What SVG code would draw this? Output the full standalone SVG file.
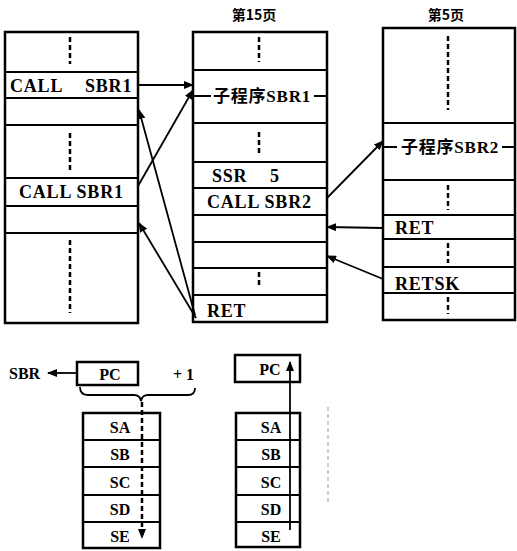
<svg xmlns="http://www.w3.org/2000/svg" width="517" height="551" viewBox="0 0 517 551">
<style>
.box{fill:#fff;stroke:#000;stroke-width:2.5}
.row{stroke:#000;stroke-width:2;fill:none}
.dash{stroke:#000;stroke-width:2.5;stroke-dasharray:5,3;fill:none}
.t{font-family:"Liberation Serif","Noto Sans CJK SC",serif;font-weight:bold;font-size:18px;letter-spacing:0.8px;fill:#000}
.s{font-family:"Liberation Serif","Noto Sans CJK SC",serif;font-weight:bold;font-size:16px;fill:#000}
.c{font-family:"Liberation Serif","Noto Sans CJK SC",serif;font-weight:bold;font-size:17px;letter-spacing:0.8px;fill:#000}
.h{font-family:"Noto Sans CJK SC","Liberation Serif",sans-serif;font-weight:bold;font-size:14px;fill:#000}
.conn{stroke:#000;stroke-width:1.8;fill:none}
</style>
<defs>
<marker id="ah" markerWidth="10" markerHeight="8" refX="9" refY="4" orient="auto" markerUnits="userSpaceOnUse">
<path d="M0,0 L10,4 L0,8 Z" fill="#000"/>
</marker>
</defs>

<g id="left-column">
<rect class="box" x="5" y="32" width="133" height="291"/>
<path class="row" d="M5,72H138M5,98H138M5,125H138M5,178H138M5,206H138M5,233H138"/>
<path class="dash" d="M70,37V64M70,133V173M70,240V313"/>
<text class="t" x="10" y="92">CALL</text>
<text class="t" x="85" y="92">SBR1</text>
<text class="t" x="19" y="198">CALL SBR1</text>
</g>

<g id="page15">
<text class="h" x="254" y="20" text-anchor="middle">第15页</text>
<rect class="box" x="193" y="32" width="134" height="290"/>
<path class="row" d="M193,70H327M193,123H327M193,162H327M193,188H327M193,215H327M193,242H327M193,268H327M193,295H327"/>
<path class="dash" d="M259,37V62M259,132V155M259,272V287"/>
<path class="row" d="M193,96H211M314,96H327" stroke-width="1.5"/>
<text class="c" x="262" y="102" text-anchor="middle">子程序SBR1</text>
<text class="t" x="212" y="182">SSR</text>
<text class="t" x="270" y="182">5</text>
<text class="t" x="207" y="208">CALL SBR2</text>
<text class="t" x="207" y="317">RET</text>
</g>

<g id="page5">
<text class="h" x="446" y="20" text-anchor="middle">第5页</text>
<rect class="box" x="383" y="28" width="132" height="292"/>
<path class="row" d="M383,123H515M383,180H515M383,215H515M383,239H515M383,267H515M383,293H515"/>
<path class="dash" d="M448,36V110M448,185V210M448,243V263M448,297V314"/>
<path class="row" d="M383,147H397M502,147H515" stroke-width="1.5"/>
<text class="c" x="450" y="153" text-anchor="middle">子程序SBR2</text>
<text class="t" x="395" y="234">RET</text>
<text class="t" x="395" y="290">RETSK</text>
</g>

<g id="stack-before">
<text class="s" x="9" y="379">SBR</text>
<rect class="box" x="77" y="362" width="61" height="23"/>
<text class="s" x="110" y="380" text-anchor="middle">PC</text>
<text class="s" x="173" y="380">+ 1</text>
<rect class="box" x="83" y="413" width="77" height="135"/>
<path class="row" d="M83,440H160M83,467H160M83,495H160M83,522H160"/>
<text class="s" x="120" y="433" text-anchor="middle">SA</text>
<text class="s" x="120" y="460" text-anchor="middle">SB</text>
<text class="s" x="120" y="488" text-anchor="middle">SC</text>
<text class="s" x="120" y="515" text-anchor="middle">SD</text>
<text class="s" x="120" y="542" text-anchor="middle">SE</text>
</g>

<g id="stack-after">
<rect class="box" x="235" y="355" width="65" height="27"/>
<text class="s" x="270" y="375" text-anchor="middle">PC</text>
<rect class="box" x="236" y="413" width="64" height="134"/>
<path class="row" d="M236,440H300M236,467H300M236,495H300M236,522H300"/>
<text class="s" x="271" y="433" text-anchor="middle">SA</text>
<text class="s" x="271" y="460" text-anchor="middle">SB</text>
<text class="s" x="271" y="488" text-anchor="middle">SC</text>
<text class="s" x="271" y="515" text-anchor="middle">SD</text>
<text class="s" x="271" y="542" text-anchor="middle">SE</text>
</g>

<g id="connectors">
<path class="conn" d="M138,85L193,85" marker-end="url(#ah)"/>
<path class="conn" d="M138,186L193,90" marker-end="url(#ah)"/>
<path class="conn" d="M195,315L139,110" marker-end="url(#ah)"/>
<path class="conn" d="M196,318L139,223" marker-end="url(#ah)"/>
<path class="conn" d="M327,198L383,141" marker-end="url(#ah)"/>
<path class="conn" d="M383,228L327,227" marker-end="url(#ah)"/>
<path class="conn" d="M383,279L327,256" marker-end="url(#ah)"/>
<path class="conn" d="M77,373L48,373" marker-end="url(#ah)"/>
<path class="conn" d="M80,387Q80,395 88,395H134Q140,395 141,401Q142,395 148,395H188Q195,395 195,388"/>
<path class="dash" d="M142,402V538" stroke-width="1.8" marker-end="url(#ah)"/>
<path class="conn" d="M290,530V362" marker-end="url(#ah)"/>
<path d="M328,407V503" stroke="#999" stroke-width="1" stroke-dasharray="4,3" fill="none"/>
</g>
</svg>
